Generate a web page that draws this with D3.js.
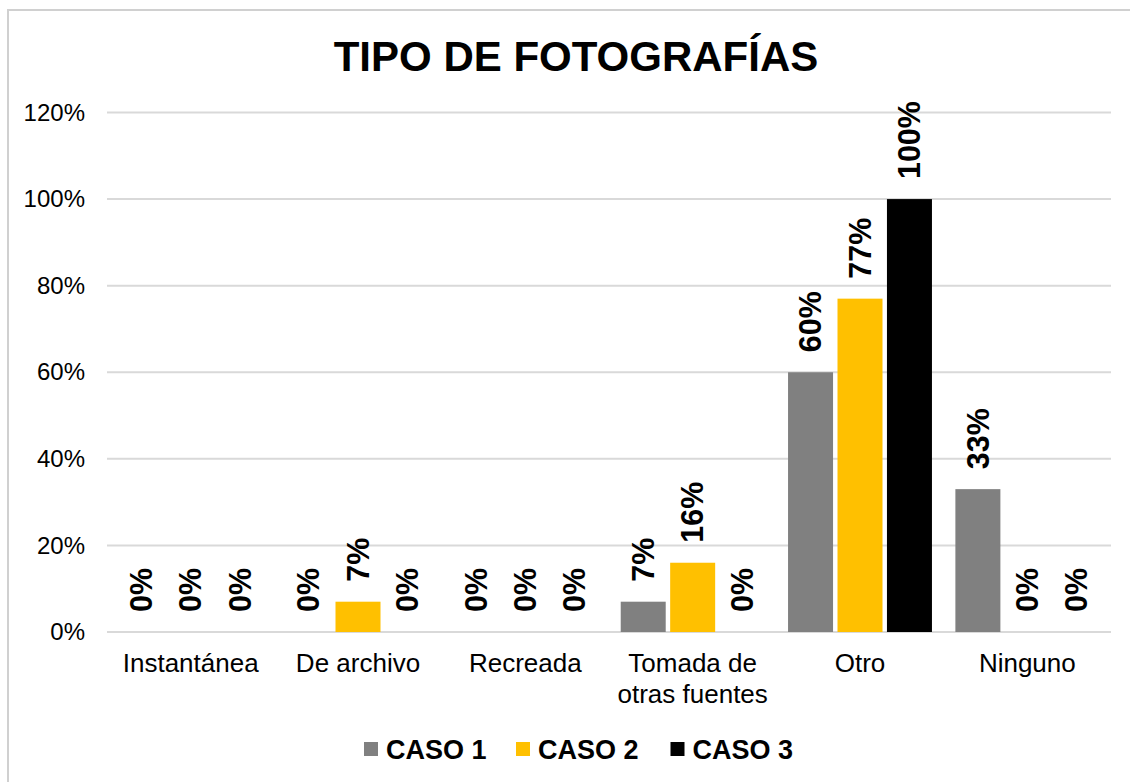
<!DOCTYPE html>
<html>
<head>
<meta charset="utf-8">
<script src="https://cdn.jsdelivr.net/npm/d3@7"></script>
<style>
  body { margin: 0; background: #fff; }
  svg { display: block; font-family: "Liberation Sans", Arial, sans-serif; }
</style>
</head>
<body>
<div id="chart"></div>
<script>
// Chart data
const categories = ["Instantánea", "De archivo", "Recreada", "Tomada de otras fuentes", "Otro", "Ninguno"];
const seriesNames = ["CASO 1", "CASO 2", "CASO 3"];
const caso1 = [0, 0, 0, 7, 60, 33];
const caso2 = [0, 7, 0, 16, 77, 0];
const caso3 = [0, 0, 0, 0, 100, 0];
const yTicks = [0, 20, 40, 60, 80, 100, 120];
const colors = ["#808080", "#FFC000", "#000000"];

const seriesValues = [caso1, caso2, caso3];

const width = 1130, height = 782;
const margin = { top: 112.5, right: 19, bottom: 150, left: 107 };

const svg = d3.select("#chart").append("svg")
    .attr("width", width)
    .attr("height", height);

// chart border (runs off the right/bottom edge)
svg.append("rect")
    .attr("x", 8).attr("y", 10)
    .attr("width", width + 20).attr("height", height + 20)
    .attr("fill", "none")
    .attr("stroke", "#d0d0d0")
    .attr("stroke-width", 2);

// Title
svg.append("text")
    .attr("x", 576).attr("y", 71)
    .attr("text-anchor", "middle")
    .style("font-size", "42px")
    .style("font-weight", "bold")
    .text("TIPO DE FOTOGRAFÍAS");

const x0 = d3.scaleBand()
    .domain(categories)
    .range([margin.left, width - margin.right])
    .paddingInner(0);

const x1 = d3.scaleBand()
    .domain(seriesNames)
    .range([x0.bandwidth() * 0.07, x0.bandwidth() * 0.93])
    .paddingInner(0.09);

const y = d3.scaleLinear()
    .domain([0, 120])
    .range([632, margin.top]);

// gridlines
svg.append("g")
    .selectAll("line")
    .data(yTicks)
    .join("line")
    .attr("x1", margin.left)
    .attr("x2", width - margin.right)
    .attr("y1", d => y(d))
    .attr("y2", d => y(d))
    .attr("stroke", "#d9d9d9")
    .attr("stroke-width", 2);

// y axis labels
const yAxis = svg.append("g")
    .attr("transform", `translate(${margin.left},0)`)
    .call(d3.axisLeft(y).tickValues(yTicks).tickFormat(d => d + "%").tickSize(0).tickPadding(22));
yAxis.select(".domain").remove();
yAxis.selectAll("text")
    .style("font-family", "'Liberation Sans', Arial, sans-serif")
    .style("font-size", "24px")
    .attr("fill", "#000");

// bars
const groups = svg.append("g")
    .selectAll("g")
    .data(categories)
    .join("g")
    .attr("transform", d => `translate(${x0(d)},0)`);

const cells = groups.selectAll("g")
    .data((c, i) => seriesNames.map((s, j) => ({ series: s, value: seriesValues[j][i], color: colors[j] })))
    .join("g");

cells.append("rect")
    .attr("x", d => x1(d.series))
    .attr("y", d => y(d.value))
    .attr("width", x1.bandwidth())
    .attr("height", d => y(0) - y(d.value))
    .attr("fill", d => d.color);

// value labels (rotated)
cells.append("text")
    .attr("transform", d => `translate(${x1(d.series) + x1.bandwidth() / 2},${y(d.value) - 20}) rotate(-90)`)
    .attr("dy", "0.35em")
    .attr("text-anchor", "start")
    .style("font-size", "30.5px")
    .style("font-weight", "bold")
    .text(d => d.value + "%");

// category labels
const catLines = {
    "Tomada de otras fuentes": ["Tomada de", "otras fuentes"]
};
svg.append("g")
    .selectAll("text")
    .data(categories)
    .join("text")
    .attr("x", d => x0(d) + x0.bandwidth() / 2)
    .attr("y", 672)
    .attr("text-anchor", "middle")
    .style("font-size", "26px")
    .each(function(d) {
        const lines = catLines[d] || [d];
        d3.select(this).selectAll("tspan")
            .data(lines)
            .join("tspan")
            .attr("x", x0(d) + x0.bandwidth() / 2)
            .attr("dy", (l, i) => i === 0 ? 0 : 31)
            .text(l => l);
    });

// legend
const legendX = [364, 516, 670.5];
const legend = svg.append("g")
    .selectAll("g")
    .data(seriesNames)
    .join("g")
    .attr("transform", (d, i) => `translate(${legendX[i]},742)`);
legend.append("rect")
    .attr("width", 14).attr("height", 14)
    .attr("fill", (d, i) => colors[i]);
legend.append("text")
    .attr("x", 22).attr("y", 16.5)
    .style("font-size", "27px")
    .style("font-weight", "bold")
    .text(d => d);
</script>
</body>
</html>
